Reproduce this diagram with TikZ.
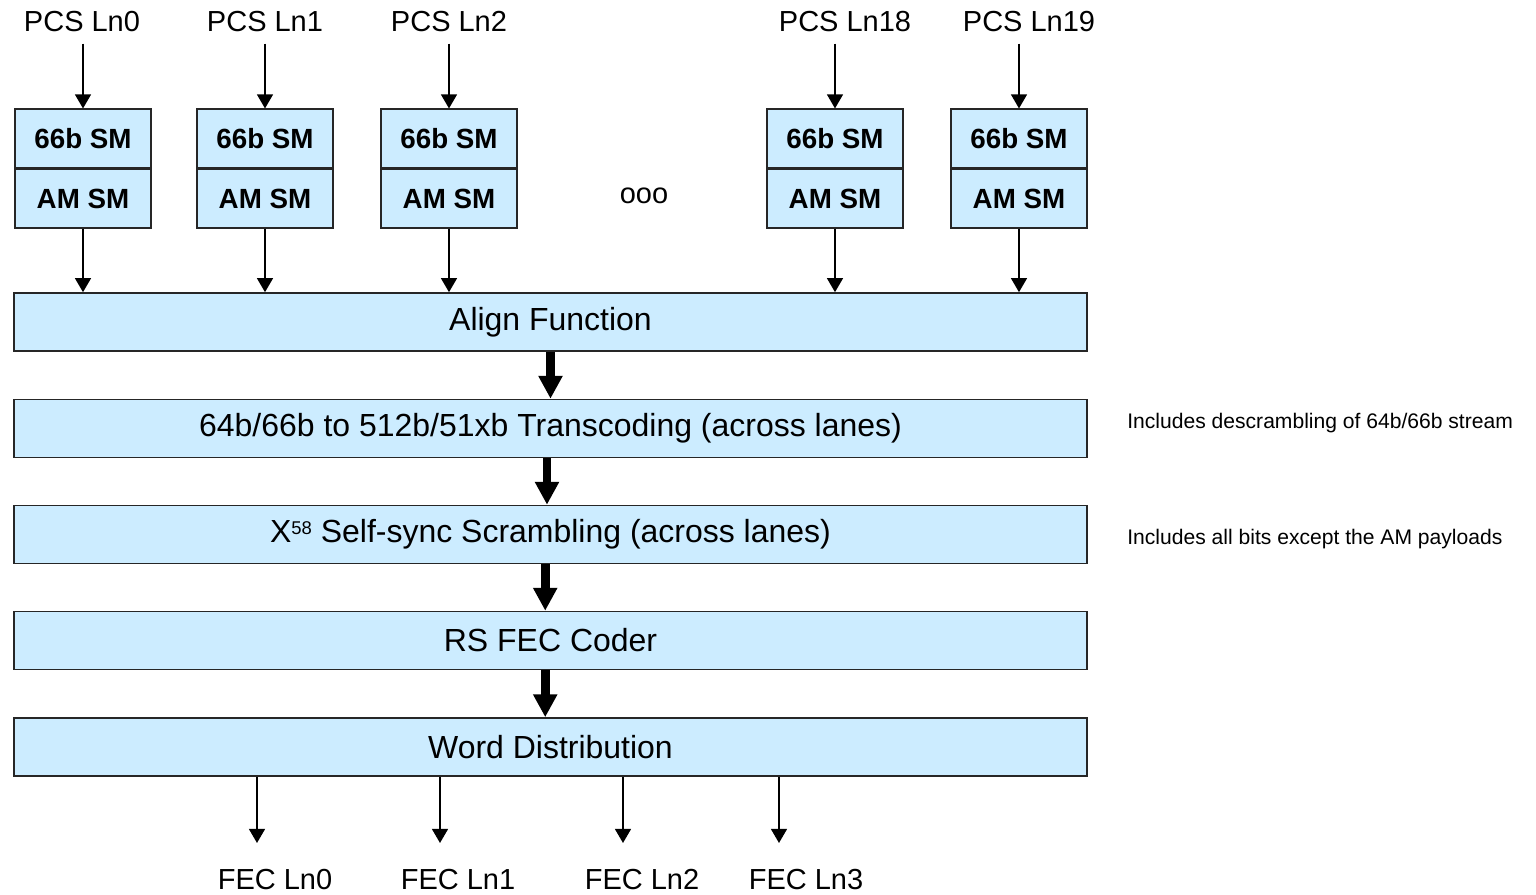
\documentclass[tikz,border=0pt]{standalone}
\usepackage{fontspec}
\setmainfont{Liberation Sans}
\usetikzlibrary{positioning,arrows.meta}
\definecolor{boxblue}{HTML}{CCECFF}

\begin{document}
\begin{tikzpicture}
		[x=0.02cm, y=-0.02cm, font=\fontsize{16.5}{19}\selectfont,
		sm/.style={rectangle, draw=black!85, line width=0.9pt, fill=boxblue,
			minimum width=2.72cm, minimum height=1.17cm, inner sep=0pt,
			font=\fontsize{15.8}{18}\selectfont\bfseries},
		stage/.style={rectangle, draw=black!85, line width=0.9pt, fill=boxblue,
			minimum width=21.46cm, minimum height=1.16cm, inner sep=0pt,
			font=\fontsize{18.2}{21}\selectfont},
		lane/.style={draw, line width=1.1pt, -{Triangle[width=9pt,length=8pt]}},
		bus/.style={draw, line width=5pt, -{Triangle[width=13pt,length=13pt]}},
		note/.style={anchor=west, inner sep=0pt, font=\fontsize{12}{14}\selectfont},
		]
		\useasboundingbox (0,0) rectangle (1536,895);
		
		% processing chain
		\node[stage] (align) at (550.5,322) {Align Function};
		\node[stage] (trans) at (550.5,428.5) {64b/66b to 512b/51xb Transcoding (across lanes)};
		\node[stage] (scram) at (550.5,534.5) {X\raisebox{4.5pt}{\fontsize{10.5}{12}\selectfont 58} Self-sync Scrambling (across lanes)};
		\node[stage] (rs) at (550.5,640.5) {RS FEC Coder};
		\node[stage] (word) at (550.5,747) {Word Distribution};
		
		\foreach \a/\b/\s in {align/trans/0,trans/scram/-2,scram/rs/-3,rs/word/-3}
			\draw[bus] ([xshift=\s pt]\a.south) -- ([xshift=\s pt]\b.north);
		
		% PCS lanes
		\foreach \x/\lx/\n in {83/82/0,265/265/1,449/449/2,835/845/18,1019/1029/19}{
			\node (pcs\n) at (\lx,22) {PCS Ln\n};
			\node[sm] (sync\n) at (\x,138.5) {66b SM};
			\node[sm, below=0pt of sync\n] (am\n) {AM SM};
			\draw[lane, shorten <=3pt] (pcs\n.south -| sync\n.north) -- (sync\n.north);
			\draw[lane] (am\n.south) -- (am\n.south |- align.north);
		}
		\node (dots) at (644,196) {ooo};
		
		% FEC lanes
		\foreach \x/\lx/\n in {257/275/0,440/458/1,623/642/2,779/806/3}{
			\node (fec\n) at (\lx,880) {FEC Ln\n};
			\coordinate (tip\n) at (\x,843);
			\draw[lane] (word.south -| tip\n) -- (tip\n);
		}
		
		% notes
		\node[note] (note1) at (1127,423) {Includes descrambling of 64b/66b stream};
		\node[note] (note2) at (1127,539) {Includes all bits except the AM payloads};
		
	\end{tikzpicture}
\end{document}
